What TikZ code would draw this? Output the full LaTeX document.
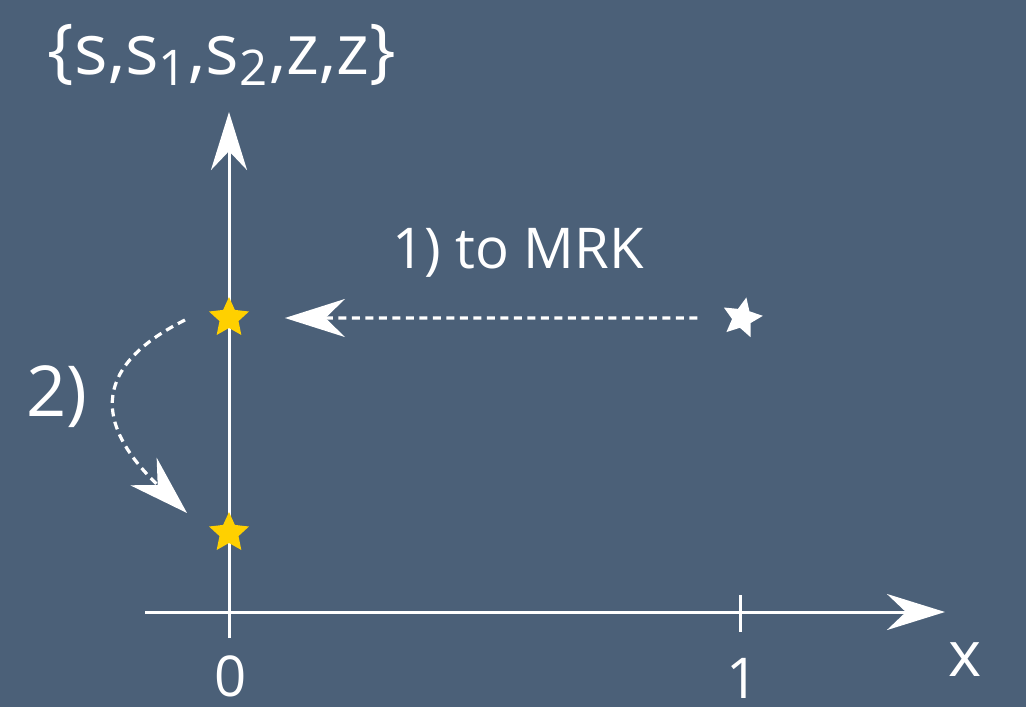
\documentclass[tikz,border=0pt]{standalone}
\usepackage{fontspec}
\setmainfont{Open Sans}
\usetikzlibrary{arrows.meta,shapes.geometric}
\definecolor{Board}{HTML}{4B6078}
\definecolor{Gold}{HTML}{FFD000}
\tikzset{
  axis/.style={draw=white,line width=0.3mm,-{Stealth[length=5.8mm,width=3.6mm]}},
  move/.style={draw=white,line width=0.32mm,dash pattern=on 0.8mm off 0.55mm,
    -{Stealth[length=6mm,width=3.8mm]}},
  starpt/.style={star,star points=5,star point ratio=2.1,minimum size=4.2mm,
    inner sep=0pt,draw=none},
  lbl/.style={text=white,inner sep=0pt,font=\fontsize{16}{18}\selectfont}
}

\begin{document}
\begin{tikzpicture}
  \useasboundingbox[fill=Board] (-2.29,-0.95) rectangle (7.97,6.12);

  % axes
  \coordinate (xfrom) at (-0.84,0);
  \coordinate (xto) at (7.16,0);
  \coordinate (yfrom) at (0,-0.26);
  \coordinate (yto) at (0,5.0);
  \draw[axis] (xfrom) -- (xto);
  \draw[axis] (yfrom) -- (yto);
  \draw[white,line width=0.3mm] (5.11,0.17) -- (5.11,-0.2);

  % points
  \node[starpt,fill=Gold] (top) at (0,2.94) {};
  \node[starpt,fill=Gold] (low) at (0,0.79) {};
  \node[starpt,fill=white,rotate=-12] (far) at (5.13,2.94) {};

  % labels
  \node[lbl,font=\fontsize{20}{24}\selectfont] (set) at (-0.07,5.57)
    {\{s,s\textsubscript{1},s\textsubscript{2},z,z\}};
  \node[lbl] (step1) at (2.89,3.59) {1) to MRK};
  \node[lbl,font=\fontsize{20}{24}\selectfont] (step2) at (-1.72,2.15) {2)};
  \node[lbl] (zero) at (0.02,-0.64) {0};
  \node[lbl] (one) at (5.14,-0.66) {1};
  \node[lbl,font=\fontsize{18}{20}\selectfont] (xlbl) at (7.36,-0.48) {x};

  % moves
  \draw[move,shorten <=3.3mm,shorten >=4.2mm] (far) -- (top);
  \coordinate (bendfrom) at (-0.44,2.92);
  \coordinate (bendto) at (-0.42,0.99);
  \draw[move] (bendfrom) .. controls +(-1.0,-0.5) and +(-0.87,0.83) .. (bendto);
\end{tikzpicture}
\end{document}
